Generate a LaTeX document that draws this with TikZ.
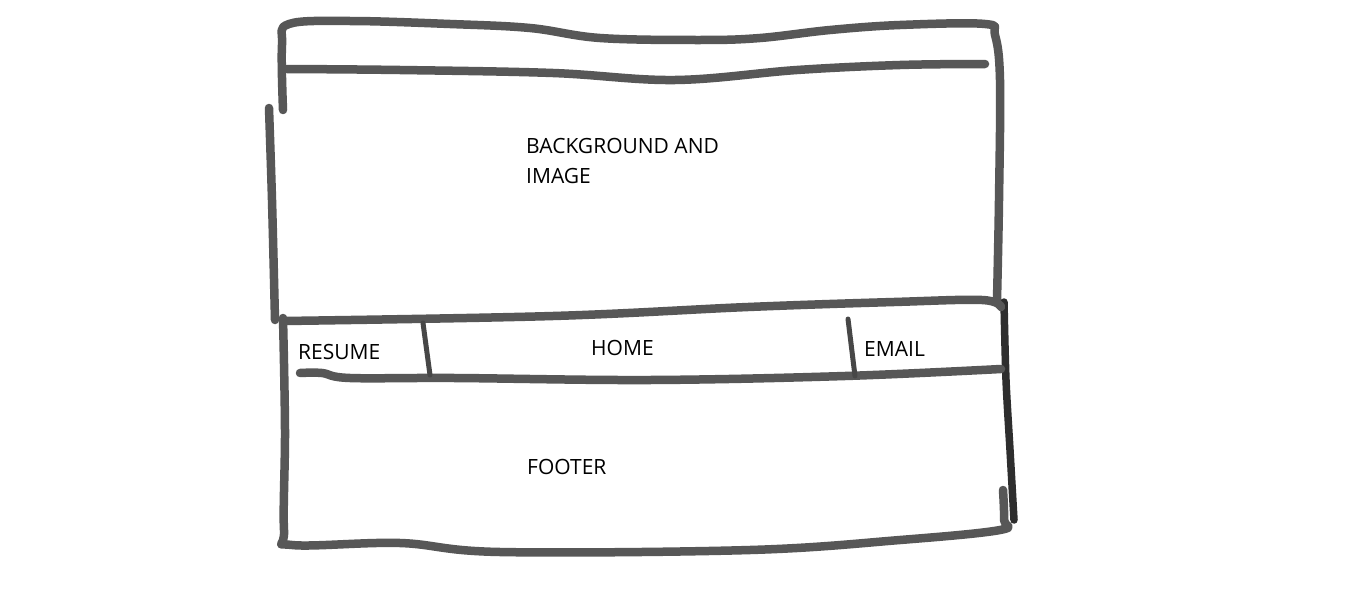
\documentclass[tikz,border=0pt]{standalone}
\usepackage{fontspec}
\setmainfont{Open Sans}
\begin{document}
\begin{tikzpicture}[x=1pt,y=-1pt,
  stroke/.style={draw=black!66,line width=8.5pt,line cap=round,line join=round},
  dark/.style={draw=black!82,line width=7.5pt,line cap=round,line join=round},
  thin/.style={draw=black!72,line width=5pt,line cap=round},
  lbl/.style={inner sep=0pt,anchor=base west,font=\fontsize{21}{25}\selectfont,text=black}]
\useasboundingbox[fill=white] (0,0) rectangle (1360,597);
% outer top and right upper edge
\draw[stroke] plot[smooth,tension=0.6] coordinates {(283,110) (282,45) (289,24) (350,21) (450,24) (530,28) (600,38) (700,40) (760,38) (830,30) (900,25) (985,24) (995,35) (1000,80) (999,200) (997,300)};
% left upper stroke
\draw[stroke] plot[smooth] coordinates {(269,108) (272,200) (275,320)};
% left lower edge and bottom
\draw[stroke] plot[smooth,tension=0.6] coordinates {(283,318) (285,430) (284,530) (292,545) (400,543) (500,552) (750,550) (900,540) (1000,530) (1004,520) (1003,490)};
% right lower edge
\draw[dark] plot[smooth] coordinates {(1004,302) (1006,380) (1010,450) (1014,520)};
% header line
\draw[stroke] plot[smooth,tension=0.6] coordinates {(287,69) (400,70) (553,73) (675,80) (797,70) (900,65) (985,64)};
% band top
\draw[stroke] plot[smooth,tension=0.6] coordinates {(284,321) (553,316) (748,307) (894,302) (982,300) (1001,307)};
% band bottom
\draw[stroke] plot[smooth,tension=0.6] coordinates {(300,373) (322,373) (350,378) (455,378) (650,380) (845,376) (1001,369)};
% dividers
\draw[thin] (423,323) -- (430,375);
\draw[thin] (848,319) -- (855,376);
% labels
\node[lbl] (bg) at (526,153) {BACKGROUND AND};
\node[lbl] (img) at (526,183) {IMAGE};
\node[lbl] (resume) at (298,359) {RESUME};
\node[lbl] (home) at (591,355) {HOME};
\node[lbl] (email) at (864,356) {EMAIL};
\node[lbl] (footer) at (527,474) {FOOTER};
\end{tikzpicture}
\end{document}
